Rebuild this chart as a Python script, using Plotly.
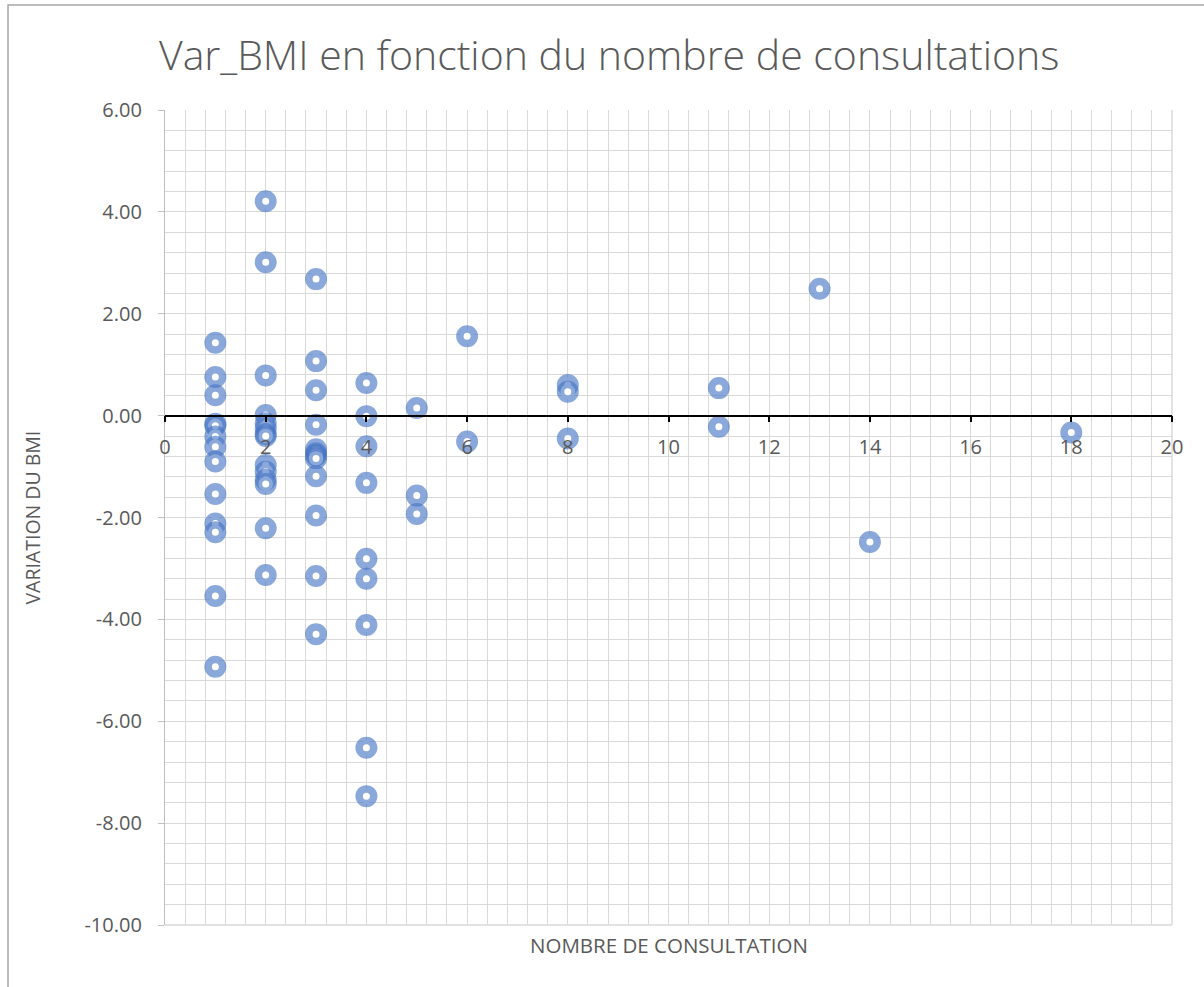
import plotly.graph_objects as go

# Data: number of consultations and BMI variation
consult_1 = [1.43, 0.76, 0.40, -0.16, -0.20, -0.41, -0.61, -0.90, -1.54, -2.12, -2.29, -3.54, -4.93]
consult_2 = [4.21, 3.01, 0.79, 0.01, -0.15, -0.25, -0.36, -0.40, -0.97, -1.10, -1.26, -1.34, -2.21, -3.13]
consult_3 = [2.68, 1.07, 0.50, -0.18, -0.66, -0.74, -0.78, -0.84, -1.19, -1.96, -3.15, -4.29]
consult_4 = [0.64, -0.01, -0.60, -1.32, -2.81, -3.20, -4.11, -6.52, -7.47]
consult_5 = [0.15, -1.57, -1.93]
consult_6 = [1.56, -0.51]
consult_8 = [0.60, 0.47, -0.45]
consult_11 = [0.54, -0.22]
consult_13 = [2.49]
consult_14 = [-2.48]
consult_18 = [-0.33]

groups = [(1, consult_1), (2, consult_2), (3, consult_3), (4, consult_4), (5, consult_5),
          (6, consult_6), (8, consult_8), (11, consult_11), (13, consult_13),
          (14, consult_14), (18, consult_18)]

x_ticks = [0, 2, 4, 6, 8, 10, 12, 14, 16, 18, 20]
x_labels = ["0", "2", "4", "6", "8", "10", "12", "14", "16", "18", "20"]
y_ticks = [-10, -8, -6, -4, -2, 0, 2, 4, 6]
y_labels = ["-10.00", "-8.00", "-6.00", "-4.00", "-2.00", "0.00", "2.00", "4.00", "6.00"]

xs, ys = [], []
for n, vals in groups:
    for v in vals:
        xs.append(n)
        ys.append(v)

FONT = "Open Sans"
GREY = "#595959"
GRID = "#d9d9d9"

fig = go.Figure()
fig.add_trace(go.Scatter(
    x=xs, y=ys, mode="markers",
    marker=dict(symbol="circle", size=14.5, color="white",
                line=dict(width=7.5, color="rgba(68,114,196,0.62)")),
    showlegend=False, hoverinfo="x+y",
))

fig.update_layout(
    width=1204, height=987,
    paper_bgcolor="white", plot_bgcolor="white",
    margin=dict(l=165, r=32, t=110, b=62),
    font=dict(family=FONT, color=GREY),
    title=dict(text="Var_BMI en fonction du nombre de consultations",
               x=0.506, xanchor="center", y=0.944, yanchor="middle",
               font=dict(family=FONT, size=41, color=GREY, weight=300)),
    xaxis=dict(range=[0, 20], tickmode="array", tickvals=x_ticks, ticktext=x_labels,
               anchor="free", position=0.625,
               showline=True, linecolor="black", linewidth=1.5,
               ticks="outside", ticklen=6, tickcolor="black", tickwidth=1.5,
               ticklabelstandoff=8,
               tickfont=dict(family=FONT, size=20, color=GREY),
               showgrid=True, gridcolor=GRID, gridwidth=1.4,
               minor=dict(tickmode="linear", tick0=0, dtick=0.4, ticks="",
                          showgrid=True, gridcolor=GRID, gridwidth=1.4),
               zeroline=False, fixedrange=True),
    yaxis=dict(range=[-10, 6], tickmode="array", tickvals=y_ticks, ticktext=y_labels,
               showline=True, linecolor="#bfbfbf", linewidth=1.3,
               ticks="outside", ticklen=6, tickcolor="#bfbfbf", tickwidth=1.3,
               ticklabelstandoff=12,
               tickfont=dict(family=FONT, size=20, color=GREY),
               showgrid=True, gridcolor=GRID, gridwidth=1.4,
               minor=dict(tickmode="linear", tick0=0, dtick=0.4, ticks="",
                          showgrid=True, gridcolor=GRID, gridwidth=1.4),
               zeroline=False, fixedrange=True),
    annotations=[
        dict(text="NOMBRE DE CONSULTATION", xref="paper", yref="paper",
             x=0.5, y=-0.025, xanchor="center", yanchor="middle", showarrow=False,
             font=dict(family=FONT, size=20.5, color=GREY)),
        dict(text="VARIATION DU BMI", xref="paper", yref="paper",
             x=-0.132, y=0.5, xanchor="center", yanchor="middle", showarrow=False,
             textangle=-90, font=dict(family=FONT, size=19.5, color=GREY)),
    ],
    shapes=[
        dict(type="rect", xref="paper", yref="paper",
             x0=-0.1559, x1=1.1, y0=-0.15, y1=1.1288,
             line=dict(color="#a6a6a6", width=1.5), fillcolor="rgba(0,0,0,0)", layer="below"),
        dict(type="line", xref="paper", yref="paper", x0=0, x1=1, y0=0, y1=0,
             line=dict(color=GRID, width=1.4), layer="below"),
        dict(type="line", xref="paper", yref="paper", x0=1, x1=1, y0=0, y1=1,
             line=dict(color=GRID, width=1.4), layer="below"),
    ],
)

fig.write_html("out.html", config={"displayModeBar": False},
               post_script="document.body.style.margin='0';")
